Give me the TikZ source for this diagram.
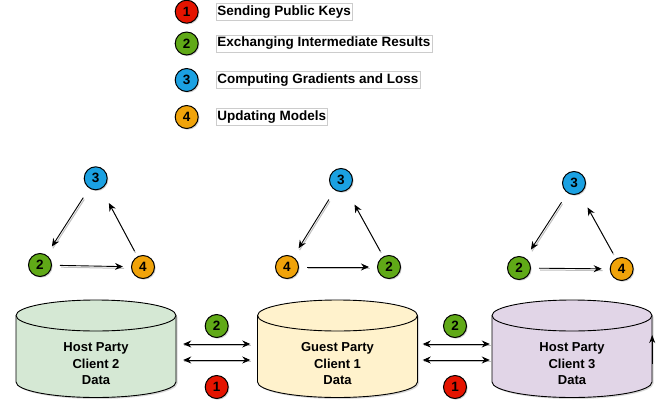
\documentclass[tikz,border=0pt]{standalone}
\usepackage{fontspec}
\setmainfont{Liberation Sans}
\usetikzlibrary{arrows.meta,positioning,shadows}

\definecolor{keyred}{HTML}{E51400}
\definecolor{resgreen}{HTML}{60A917}
\definecolor{gradblue}{HTML}{1BA1E2}
\definecolor{updorange}{HTML}{F0A30A}
\definecolor{hostgreen}{HTML}{D5E8D4}
\definecolor{guestyellow}{HTML}{FFF2CC}
\definecolor{hostpurple}{HTML}{E1D5E7}

\tikzset{
  badge/.style={circle, draw, line width=1pt, minimum size=23pt, inner sep=0pt,
    font=\bfseries\fontsize{13.5}{15}\selectfont,
    drop shadow={shadow xshift=1.2pt, shadow yshift=-1.2pt, fill=black!35}},
  legendtext/.style={draw=black!20, inner xsep=1.5pt, inner ysep=2pt,
    font=\bfseries\fontsize{13.5}{16}\selectfont},
  flow/.style={-{Stealth[length=8pt,width=7pt]}, line width=0.9pt,
    every edge/.append style={preaction={draw=black!25, -, line width=1pt,
      transform canvas={shift={(1pt,-1.8pt)}}}}},
  swap/.style={flow, {Stealth[length=8pt,width=7pt]}-{Stealth[length=8pt,width=7pt]}},
  drumtext/.style={align=center, minimum width=160pt, minimum height=80pt, inner sep=0pt,
    font=\bfseries\fontsize{13}{16.5}\selectfont}
}

% name, x of the axis, fill, text
\newcommand{\datadrum}[4]{%
  \draw[fill=#3, line width=0.9pt,
        drop shadow={shadow xshift=1.5pt, shadow yshift=-1.5pt, fill=black!30}]
    ({#2-80},315.5) -- ({#2-80},382)
    arc[start angle=180, end angle=360, x radius=80pt, y radius=15.5pt]
    -- ({#2+80},315.5)
    arc[start angle=0, end angle=180, x radius=80pt, y radius=15.5pt] -- cycle;
  \draw[line width=0.9pt] ({#2-80},315.5)
    arc[start angle=180, end angle=360, x radius=80pt, y radius=15.5pt];
  \node[drumtext] (#1) at (#2,364) {#4};
}

\begin{document}
\begin{tikzpicture}[x=1pt,y=-1pt,node distance=17pt]
  \useasboundingbox (0,0) rectangle (667,402);

  % legend
  \node[badge, fill=keyred]    (k1) at (186.7,11.7) {1};
  \node[badge, fill=resgreen]  (k2) at (186.7,43.5) {2};
  \node[badge, fill=gradblue]  (k3) at (186.7,80)   {3};
  \node[badge, fill=updorange] (k4) at (186.7,117)  {4};
  \node[legendtext] (t1) [right=of k1] {Sending Public Keys};
  \node[legendtext] (t2) [right=of k2] {Exchanging Intermediate Results};
  \node[legendtext] (t3) [right=of k3] {Computing Gradients and Loss};
  \node[legendtext] (t4) [right=of k4] {Updating Models};

  % local cycles
  \node[badge, fill=gradblue]  (l3) at (95.7,178.3) {3};
  \node[badge, fill=resgreen]  (l2) at (40,265)     {2};
  \node[badge, fill=updorange] (l4) at (143,267)    {4};
  \node[badge, fill=gradblue]  (m3) at (341,180)    {3};
  \node[badge, fill=updorange] (m4) at (287,267)    {4};
  \node[badge, fill=resgreen]  (m2) at (389,267)    {2};
  \node[badge, fill=gradblue]  (r3) at (574,183)    {3};
  \node[badge, fill=resgreen]  (r2) at (519,268)    {2};
  \node[badge, fill=updorange] (r4) at (621.7,269)  {4};

  \path[flow]
    (l3) edge [shorten <=11pt, shorten >=10pt] (l2)
    (l2) edge [shorten <=8pt,  shorten >=8pt]  (l4)
    (l4) edge [shorten <=6pt,  shorten >=16pt] (l3)
    (m3) edge [shorten <=11pt, shorten >=10pt] (m4)
    (m4) edge [shorten <=8pt,  shorten >=8pt]  (m2)
    (m2) edge [shorten <=6pt,  shorten >=16pt] (m3)
    (r3) edge [shorten <=11pt, shorten >=10pt] (r2)
    (r2) edge [shorten <=8pt,  shorten >=8pt]  (r4)
    (r4) edge [shorten <=6pt,  shorten >=16pt] (r3);

  % parties
  \datadrum{hc2}{96}{hostgreen}{Host Party\\Client 2\\Data}
  \datadrum{gc1}{337.5}{guestyellow}{Guest Party\\Client 1\\Data}
  \datadrum{hc3}{572}{hostpurple}{Host Party\\Client 3\\Data}

  \node[badge, fill=resgreen] (x2a) at (216.7,326) {2};
  \node[badge, fill=keyred]   (x1a) at (216.7,387) {1};
  \node[badge, fill=resgreen] (x2b) at (455,326)   {2};
  \node[badge, fill=keyred]   (x1b) at (455,387)   {1};

  \path[swap]
    ([yshift=20pt]hc2.east) edge [shorten <=7pt, shorten >=7pt] ([yshift=20pt]gc1.west)
    ([yshift=4pt]hc2.east)  edge [shorten <=7pt, shorten >=7pt] ([yshift=4pt]gc1.west)
    ([yshift=20pt]gc1.east) edge [shorten <=5pt, shorten >=2pt] ([yshift=20pt]hc3.west)
    ([yshift=4pt]gc1.east)  edge [shorten <=5pt, shorten >=2pt] ([yshift=4pt]hc3.west);

  \draw[-{Stealth[length=8pt,width=6pt]}, line width=0.9pt]
    (hc3.east) -- ([yshift=29pt]hc3.east);
\end{tikzpicture}
\end{document}
